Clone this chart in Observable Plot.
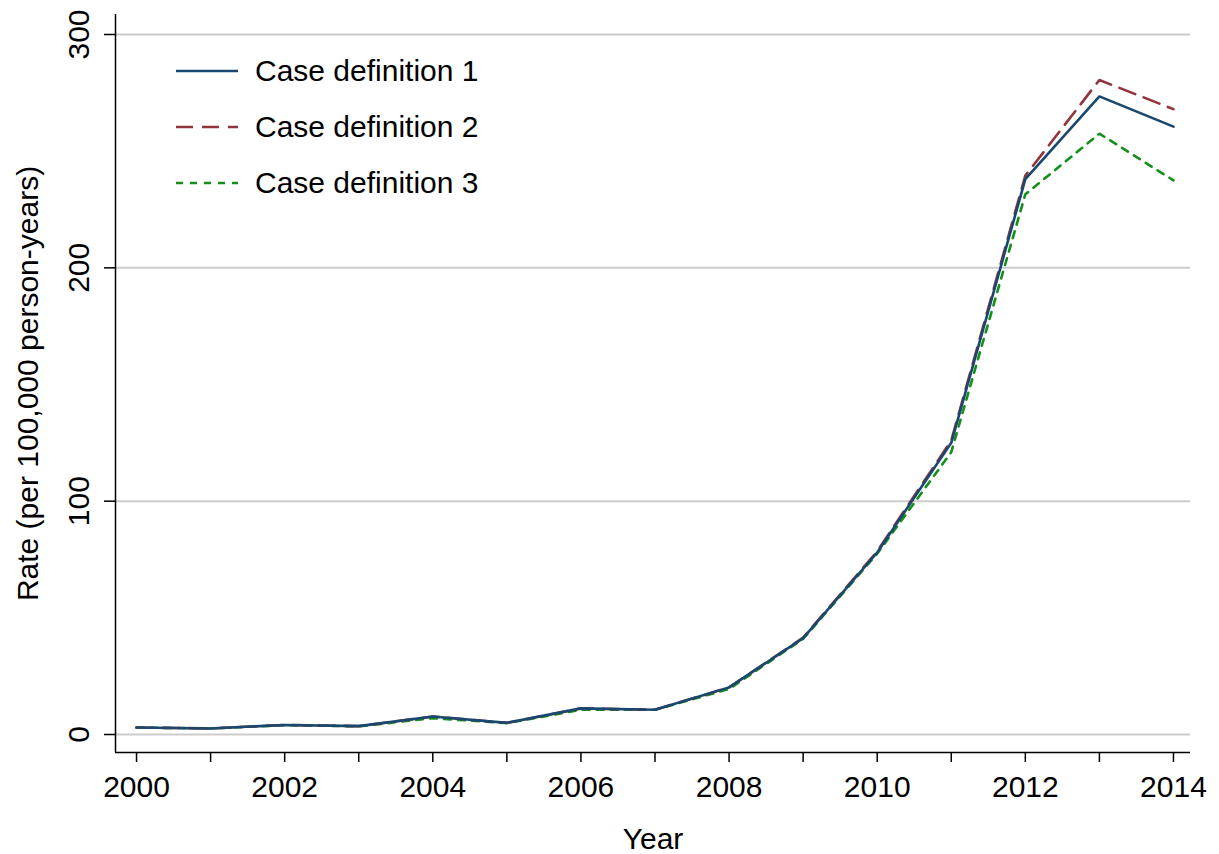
<!DOCTYPE html>
<html>
<head>
<meta charset="utf-8">
<script src="https://cdn.jsdelivr.net/npm/d3@7"></script>
<script src="https://cdn.jsdelivr.net/npm/@observablehq/plot@0.6"></script>
<style>
  html, body { margin: 0; padding: 0; background: #fff; }
  #wrap { position: relative; width: 1219px; height: 854px; font-family: "Liberation Sans", Arial, Helvetica, sans-serif; }
  #legend { position: absolute; left: 176px; top: 43px; }
  .item { display: flex; align-items: center; height: 56px; font-size: 30px; color: #000; }
  .item svg { margin-right: 17px; }
</style>
</head>
<body>
<div id="wrap"><div id="legend"></div></div>
<script>
const years = [2000, 2001, 2002, 2003, 2004, 2005, 2006, 2007, 2008, 2009, 2010, 2011, 2012, 2013, 2014];
const def1 = [3.0, 2.6, 4.1, 3.6, 7.7, 5.0, 11.2, 10.6, 20.2, 41.3, 78.0, 125.0, 238.0, 273.5, 260.5];
const def2 = [3.0, 2.6, 4.1, 3.6, 7.7, 5.0, 11.2, 10.6, 20.2, 41.5, 78.5, 126.0, 239.5, 280.5, 268.0];
const def3 = [3.0, 2.6, 4.0, 3.5, 7.0, 4.9, 10.6, 10.6, 19.5, 41.0, 77.5, 121.0, 231.5, 257.5, 237.5];
const seriesNames = ["Case definition 1", "Case definition 2", "Case definition 3"];
const seriesColors = ["#1a476f", "#90353b", "#14901a"];
const seriesDash = [null, "17,9", "7,7"];
const yTicks = [0, 100, 200, 300];
const xTicks = years;
const yLabel = "Rate (per 100,000 person-years)";
const xLabel = "Year";

const rows = [];
[def1, def2, def3].forEach((vals, i) => {
  vals.forEach((v, j) => rows.push({ year: years[j], value: v, series: seriesNames[i] }));
});
const drawOrder = [2, 1, 0];

const xDomain = [1999.716, 2014.23];
const yDomain = [-7.71, 308.57];

const chart = Plot.plot({
  width: 1219,
  height: 854,
  marginLeft: 115,
  marginRight: 29,
  marginTop: 14,
  marginBottom: 102,
  style: { fontFamily: "'Liberation Sans', Arial, Helvetica, sans-serif", fontSize: "30px", background: "#fff", color: "#000" },
  x: { domain: xDomain },
  y: { domain: yDomain },
  marks: [
    Plot.gridY(yTicks, { stroke: "#cccccc", strokeOpacity: 1, strokeWidth: 2 }),
    Plot.axisY(yTicks, { tickSize: 11, tickFormat: () => "", stroke: "#000", strokeWidth: 1.5, label: null }),
    Plot.axisX(xTicks, { tickSize: 10, tickPadding: 13, tickFormat: d => d % 2 === 0 ? String(d) : "", stroke: "#000", strokeWidth: 1.5, fontSize: 30, label: null }),
    Plot.ruleX([xDomain[0]], { stroke: "#000", strokeWidth: 1.5 }),
    Plot.ruleY([yDomain[0]], { stroke: "#000", strokeWidth: 1.5 }),
    Plot.text(yTicks, { y: d => d, text: d => String(d), frameAnchor: "left", textAnchor: "middle", dx: -36, rotate: -90, fontSize: 30, fill: "#000" }),
    Plot.text([yLabel], { frameAnchor: "left", textAnchor: "middle", dx: -87, rotate: -90, fontSize: 30, fill: "#000" }),
    Plot.text([xLabel], { frameAnchor: "bottom", lineAnchor: "middle", dy: 87, fontSize: 30, fill: "#000" }),
    ...drawOrder.map(i => Plot.line(rows.filter(r => r.series === seriesNames[i]), {
      x: "year", y: "value", stroke: seriesColors[i], strokeWidth: 2.6,
      strokeDasharray: seriesDash[i] || undefined, strokeLinejoin: "miter"
    }))
  ]
});
document.getElementById("wrap").prepend(chart);

const legend = document.getElementById("legend");
seriesNames.forEach((name, i) => {
  const item = document.createElement("div");
  item.className = "item";
  const dash = seriesDash[i] ? ` stroke-dasharray="${seriesDash[i]}"` : "";
  item.innerHTML = `<svg width="62" height="10"><line x1="0" y1="5" x2="62" y2="5" stroke="${seriesColors[i]}" stroke-width="2.6"${dash}/></svg><span>${name}</span>`;
  legend.appendChild(item);
});
</script>
</body>
</html>
